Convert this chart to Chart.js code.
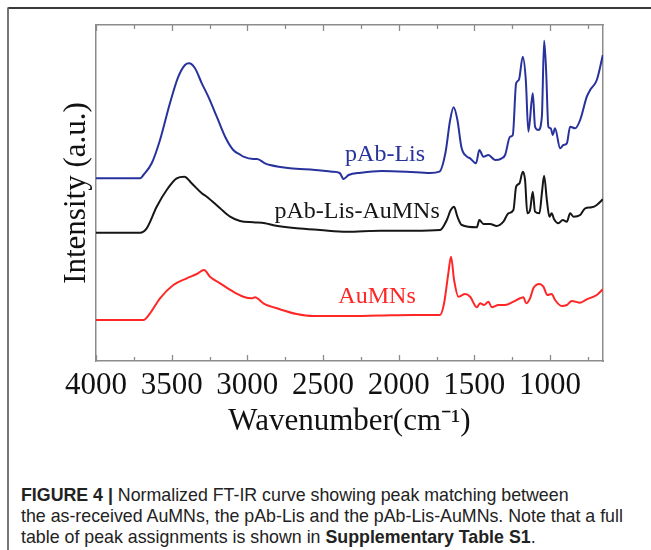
<!DOCTYPE html>
<html>
<head>
<meta charset="utf-8">
<script src="https://cdn.jsdelivr.net/npm/chart.js@4.4.1/dist/chart.umd.min.js"></script>
<style>
  body { margin: 0; background: #fff; width: 651px; height: 550px; overflow: hidden; position: relative; }
  #frame { position: absolute; left: 7px; top: 7px; width: 700px; height: 600px;
           border-top: 2px solid #3a3a3a; border-left: 2px solid #777; border-top-left-radius: 2px; }
  #wrap { position: absolute; left: 0; top: 0; width: 651px; height: 440px; }
  #caption { position: absolute; left: 21px; top: 485px; width: 628px;
             font-family: "Liberation Sans", Arial, sans-serif; font-size: 17.8px;
             line-height: 21px; color: #222; white-space: nowrap; }
  #caption b { font-weight: bold; }
</style>
</head>
<body>
<div id="frame"></div>
<div id="wrap"><canvas id="ftir" width="651" height="440"></canvas></div>
<div id="caption">
  <b>FIGURE 4 |</b> Normalized FT-IR curve showing peak matching between<br>
  the as-received AuMNs, the pAb-Lis and the pAb-Lis-AuMNs. Note that a full<br>
  table of peak assignments is shown in <b>Supplementary Table S1</b>.
</div>
<script>
// wavenumber (cm-1) and intensity (a.u., offset curves)
const pabLisWn = [4000, 3709, 3687, 3632, 3577, 3511, 3456, 3412, 3385, 3346, 3301, 3258, 3202, 3147, 3093, 3044, 3026, 2960, 2936, 2883, 2850, 2718, 2553, 2440, 2390, 2364, 2331, 2249, 2112, 1947, 1793, 1731, 1690, 1660, 1637, 1612, 1585, 1549, 1528, 1489, 1467, 1440, 1407, 1363, 1319, 1297, 1264, 1246, 1224, 1206, 1180, 1160, 1143, 1114, 1099, 1077, 1054, 1039, 1026, 1011, 995, 982, 967, 933, 912, 889, 867, 834, 801, 757, 735, 691, 651];
const pabLisI  = [182.7, 182.7, 186, 197.7, 221, 258, 284.3, 296, 297.7, 292.7, 277.7, 264.3, 244.3, 224.3, 211, 206, 204.3, 202, 202, 197.7, 196, 192.7, 191, 189.3, 188, 182, 186, 188.3, 190, 189.3, 188, 189.3, 209, 241, 253.7, 241, 213.5, 204.3, 202.7, 197.7, 211, 204.3, 206, 201, 202.7, 206, 224.3, 226, 277.7, 281, 304.3, 281, 229.3, 267.7, 234.3, 231, 244.3, 320.3, 291, 234.3, 232.7, 226, 232.7, 212.7, 216, 217.7, 234.3, 232.7, 241, 264.3, 271, 281, 306];

const pabLisAuWn = [4000, 3709, 3665, 3599, 3533, 3467, 3416, 3368, 3301, 3268, 3180, 3114, 3048, 2960, 2883, 2828, 2674, 2520, 2343, 2123, 1903, 1727, 1682, 1656, 1634, 1612, 1583, 1484, 1467, 1440, 1396, 1352, 1308, 1275, 1242, 1224, 1202, 1180, 1165, 1150, 1132, 1114, 1099, 1070, 1054, 1039, 1021, 1004, 989, 973, 945, 916, 889, 867, 845, 801, 768, 724, 691, 651];
const pabLisAuI  = [128.3, 128.3, 132.7, 154.3, 171, 182.7, 184.3, 177.7, 167.7, 164.3, 152.7, 144.3, 140, 138.7, 137.7, 135.7, 132.7, 131, 129.3, 130.3, 130.3, 131, 141, 151, 154.3, 144.3, 136, 133.7, 141, 137, 137, 135, 139.3, 147.7, 151, 174.3, 177.7, 189.3, 181, 147.7, 151, 169.3, 149.3, 147.7, 167.7, 185.3, 161, 144.3, 147.7, 141.7, 137.7, 141, 139.3, 147.7, 144.3, 146, 152.7, 153.7, 156, 161.7];

const aumnsWn = [4000, 3687, 3643, 3577, 3489, 3401, 3334, 3286, 3247, 3180, 3093, 3026, 2971, 2949, 2894, 2784, 2674, 2564, 2343, 2123, 1903, 1727, 1700, 1672, 1654, 1634, 1605, 1561, 1528, 1484, 1462, 1436, 1407, 1385, 1341, 1297, 1242, 1198, 1176, 1158, 1132, 1110, 1070, 1044, 1017, 989, 967, 922, 889, 856, 801, 757, 691, 651];
const aumnsI  = [41, 41, 47.7, 62.7, 76, 82.7, 87, 91, 84.3, 77.7, 69.3, 64.3, 62.7, 63.7, 57.7, 51.7, 47, 45, 45, 45.5, 46, 46, 57.7, 87.7, 104.3, 81, 64.3, 67, 64.3, 53.7, 57.7, 56, 59.3, 53.7, 56, 56, 59.3, 62.7, 63.7, 57.7, 62.7, 72.7, 77, 74.3, 66, 67, 61, 55, 56, 60, 58.3, 61.7, 66, 71.7];

const xTicks = [4000, 3750, 3500, 3250, 3000, 2750, 2500, 2250, 2000, 1750, 1500, 1250, 1000, 750];

const seriesNames  = ['pAb-Lis', 'pAb-Lis-AuMNs', 'AuMNs'];
const seriesColors = ['#27329c', '#161616', '#ff2626'];
// where each curve name sits, in data units
const labelWn = [2090, 2275, 2143];
const labelI  = [206, 149, 64];

function pairs(xs, ys) {
  return xs.map((x, i) => ({ x: x, y: ys[i] }));
}

const serif = '"Liberation Serif", "Times New Roman", serif';
const frameColor = '#8c8c8c';

const tickMarks = {
  id: 'tickMarks',
  afterDraw(chart) {
    const ctx = chart.ctx, xs = chart.scales.x, area = chart.chartArea;
    ctx.save();
    ctx.strokeStyle = frameColor;
    ctx.lineWidth = 1.3;
    xTicks.forEach(v => {
      const px = Math.round(xs.getPixelForValue(v)) + 0.5;
      const len = v % 500 === 0 ? 6 : 4;
      ctx.beginPath();
      ctx.moveTo(px, area.bottom);
      ctx.lineTo(px, area.bottom - len);
      ctx.moveTo(px, area.top);
      ctx.lineTo(px, area.top + len);
      ctx.stroke();
    });
    ctx.restore();
  }
};

const curveNames = {
  id: 'curveNames',
  afterDatasetsDraw(chart) {
    const ctx = chart.ctx, xs = chart.scales.x, ys = chart.scales.y;
    ctx.save();
    ctx.font = '24px ' + serif;
    ctx.textAlign = 'center';
    ctx.textBaseline = 'middle';
    seriesNames.forEach((name, i) => {
      ctx.fillStyle = seriesColors[i];
      ctx.fillText(name, xs.getPixelForValue(labelWn[i]), ys.getPixelForValue(labelI[i]));
    });
    ctx.restore();
  }
};

const ctx = document.getElementById('ftir').getContext('2d');
new Chart(ctx, {
  type: 'line',
  data: {
    datasets: [
      { label: seriesNames[0], data: pairs(pabLisWn, pabLisI), borderColor: seriesColors[0] },
      { label: seriesNames[1], data: pairs(pabLisAuWn, pabLisAuI), borderColor: seriesColors[1] },
      { label: seriesNames[2], data: pairs(aumnsWn, aumnsI), borderColor: seriesColors[2] }
    ]
  },
  options: {
    responsive: false,
    animation: false,
    devicePixelRatio: 1,
    layout: { padding: { left: 0, right: 48, top: 25, bottom: 0 } },
    elements: {
      line: { borderWidth: 2, cubicInterpolationMode: 'monotone', fill: false },
      point: { radius: 0 }
    },
    plugins: { legend: { display: false }, tooltip: { enabled: false } },
    scales: {
      x: {
        type: 'linear',
        reverse: true,
        min: 650,
        max: 4000,
        afterBuildTicks: s => { s.ticks = xTicks.map(v => ({ value: v })); },
        afterFit: s => { s.height = 79; },
        ticks: {
          autoSkip: false,
          maxRotation: 0,
          padding: 6,
          color: '#111',
          font: { family: serif, size: 31 },
          callback: v => (v % 500 === 0 ? String(v) : '')
        },
        grid: { drawOnChartArea: false, drawTicks: false },
        border: { color: frameColor, width: 1.5 },
        title: {
          display: true,
          text: 'Wavenumber(cm\u207B\u00B9)',
          color: '#111',
          font: { family: serif, size: 31 },
          padding: { top: 0, bottom: 0 }
        }
      },
      x2: {
        type: 'linear', position: 'top', min: 650, max: 4000, reverse: true,
        afterFit: s => { s.height = 0; },
        ticks: { display: false },
        grid: { drawOnChartArea: false, drawTicks: false },
        border: { color: frameColor, width: 1.5 }
      },
      y: {
        min: 0,
        max: 336,
        afterFit: s => { s.width = 96; },
        ticks: { display: false },
        grid: { drawOnChartArea: false, drawTicks: false },
        border: { color: frameColor, width: 1.5 },
        title: {
          display: true,
          text: 'Intensity (a.u.)',
          color: '#111',
          font: { family: serif, size: 31 },
          padding: { top: 58, bottom: 0 }
        }
      },
      y2: {
        position: 'right', min: 0, max: 336,
        afterFit: s => { s.width = 0; },
        ticks: { display: false },
        grid: { drawOnChartArea: false, drawTicks: false },
        border: { color: frameColor, width: 1.5 }
      }
    }
  },
  plugins: [tickMarks, curveNames]
});
</script>
</body>
</html>
